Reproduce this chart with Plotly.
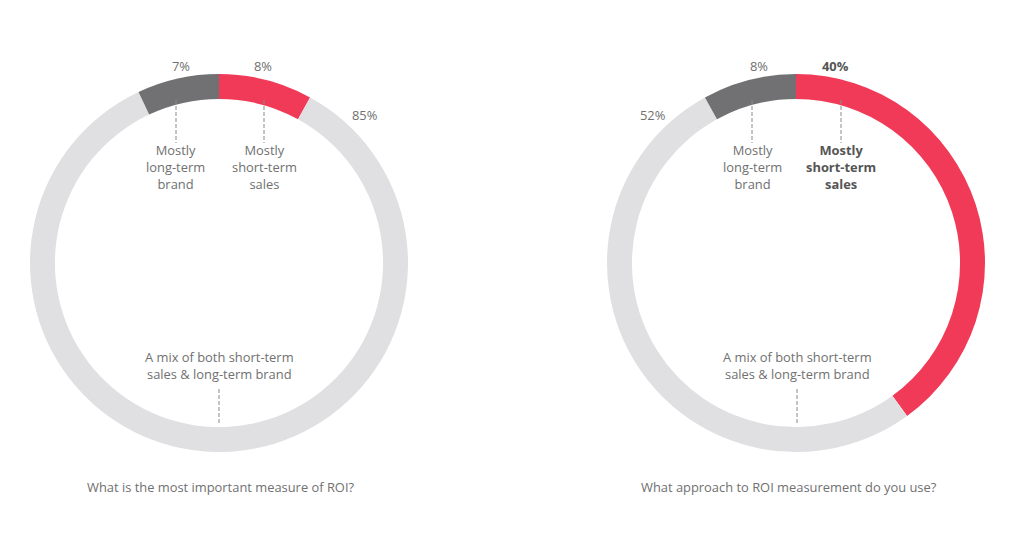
import plotly.graph_objects as go

W, H = 1024, 535

# Data
categories = ["Mostly short-term sales", "A mix of both short-term sales & long-term brand", "Mostly long-term brand"]
left_values = [8, 85, 7]
right_values = [40, 52, 8]
left_title = "What is the most important measure of ROI?"
right_title = "What approach to ROI measurement do you use?"

RED = "#F03A58"
LIGHT = "#E0E0E2"
DARK = "#717174"
TXT = "#707070"
FONT = "Open Sans"

R = 189
CY = 263
centers = [219, 796]


def px(x):
    return x / W


def py(y):
    return 1 - y / H


fig = go.Figure()
for cx, vals in zip(centers, [left_values, right_values]):
    fig.add_trace(go.Pie(
        labels=categories, values=vals, sort=False, direction="clockwise",
        rotation=0, hole=0.868, textinfo="none", hoverinfo="label+percent",
        marker=dict(colors=[RED, LIGHT, DARK], line=dict(width=0)),
        domain=dict(x=[px(cx - R), px(cx + R)], y=[py(CY + R), py(CY - R)]),
        showlegend=False,
    ))

annos = []
shapes = []


def txt(x, y, s, bold=False, size=12.9):
    if bold:
        s = "<b>" + s + "</b>"
    annos.append(dict(x=px(x), y=py(y), xref="paper", yref="paper", text=s,
                      showarrow=False, xanchor="center", yanchor="middle",
                      font=dict(family=FONT, size=size, color="#555555" if bold else TXT)))


def dline(x, y0, y1):
    shapes.append(dict(type="line", xref="paper", yref="paper", x0=px(x), x1=px(x),
                       y0=py(y0), y1=py(y1), line=dict(color="#8a8a8a", width=1, dash="4px,2px")))


# left chart
txt(181, 66, f"{left_values[2]}%")
txt(263, 66, f"{left_values[0]}%")
txt(365, 115, f"{left_values[1]}%")
txt(175, 167, "Mostly<br>long-term<br>brand")
txt(264, 167, "Mostly<br>short-term<br>sales")
txt(219, 365, "A mix of both short-term<br>sales & long-term brand")
txt(220, 487, left_title)
dline(176, 100, 143)
dline(264, 100, 143)
dline(219, 389, 425)

# right chart
txt(759, 66, f"{right_values[2]}%")
txt(835, 66, f"{right_values[0]}%", bold=True)
txt(653, 115, f"{right_values[1]}%")
txt(752, 167, "Mostly<br>long-term<br>brand")
txt(841, 167, "Mostly<br>short-term<br>sales", bold=True)
txt(797, 365, "A mix of both short-term<br>sales & long-term brand")
txt(789, 487, right_title)
dline(752, 100, 143)
dline(841, 100, 143)
dline(797, 389, 425)

fig.update_layout(width=W, height=H, margin=dict(l=0, r=0, t=0, b=0),
                  paper_bgcolor="white", plot_bgcolor="white",
                  annotations=annos, shapes=shapes)

fig.write_html("out.html")
